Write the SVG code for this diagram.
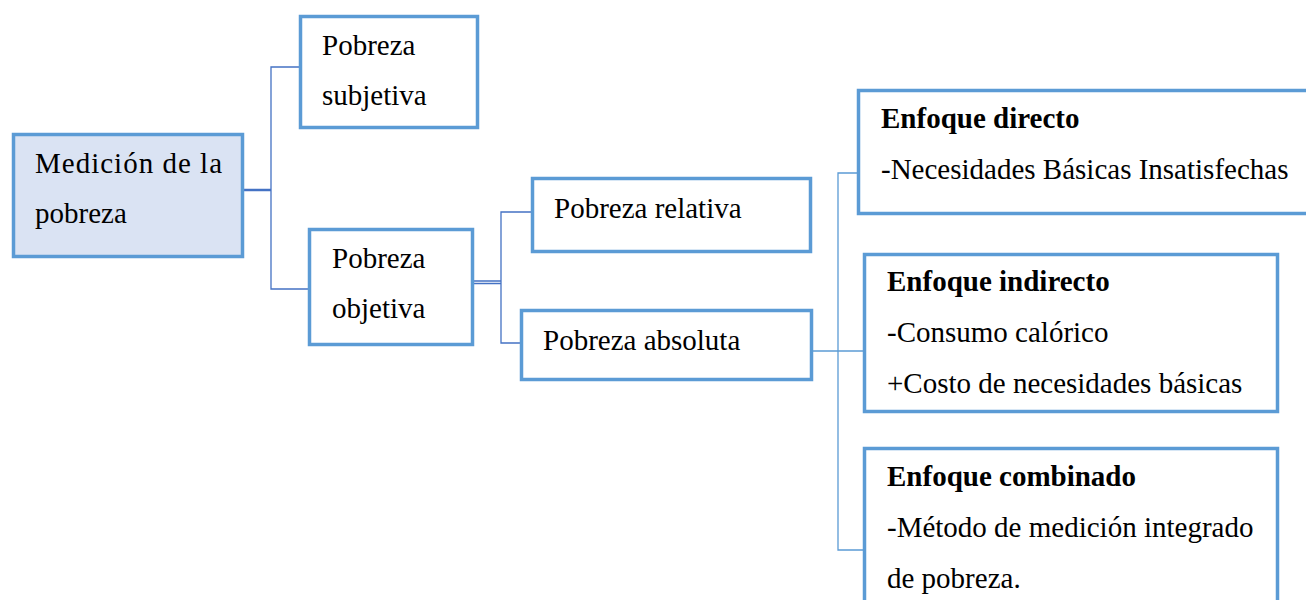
<svg xmlns="http://www.w3.org/2000/svg" width="1306" height="600" viewBox="0 0 1306 600">
<style>
.box{fill:#ffffff;stroke:#5B9BD5;stroke-width:3.5}
.main{fill:#DAE3F3;stroke:#5B9BD5;stroke-width:3.5}
text{font-family:'Liberation Serif','DejaVu Serif',serif;font-size:29px;fill:#000}
.b{font-weight:bold}
.c1{fill:none;stroke:#4472C4;stroke-width:1.3}
.c2{fill:none;stroke:#5B9BD5;stroke-width:1.3}
</style>
<g id="connectors">
<path class="c1" d="M244 190H271" style="stroke-width:2.5"/>
<path class="c1" d="M299 67H271V289H308"/>
<path class="c1" d="M474 281H501M474 283.5H501"/>
<path class="c1" d="M531 212H501V343H520"/>
<path class="c2" d="M813 351H863"/>
<path class="c2" d="M858 173H838V550H863"/>
</g>
<g id="medicion">
<rect class="main" x="13.5" y="134.5" width="229" height="122"/>
<text x="35" y="173" textLength="187" lengthAdjust="spacing">Medición de la</text>
<text x="35" y="223">pobreza</text>
</g>
<g id="subjetiva">
<rect class="box" x="300.5" y="16.5" width="177" height="111"/>
<text x="322" y="55">Pobreza</text>
<text x="322" y="105">subjetiva</text>
</g>
<g id="objetiva">
<rect class="box" x="309.5" y="229.5" width="163" height="115"/>
<text x="332" y="268">Pobreza</text>
<text x="332" y="318">objetiva</text>
</g>
<g id="relativa">
<rect class="box" x="532.5" y="178.5" width="278" height="73"/>
<text x="554" y="218">Pobreza relativa</text>
</g>
<g id="absoluta">
<rect class="box" x="521.5" y="310.5" width="290" height="69"/>
<text x="543" y="350">Pobreza absoluta</text>
</g>
<g id="directo">
<rect class="box" x="858.5" y="90.5" width="460" height="123"/>
<text class="b" x="881" y="128">Enfoque directo</text>
<text x="881" y="179">-Necesidades Básicas Insatisfechas</text>
</g>
<g id="indirecto">
<rect class="box" x="864.5" y="254.5" width="413" height="157"/>
<text class="b" x="887" y="291">Enfoque indirecto</text>
<text x="887" y="342">-Consumo calórico</text>
<text x="887" y="393">+Costo de necesidades básicas</text>
</g>
<g id="combinado">
<rect class="box" x="864.5" y="448.5" width="413" height="170"/>
<text class="b" x="887" y="486">Enfoque combinado</text>
<text x="887" y="537">-Método de medición integrado</text>
<text x="887" y="588">de pobreza.</text>
</g>
</svg>
